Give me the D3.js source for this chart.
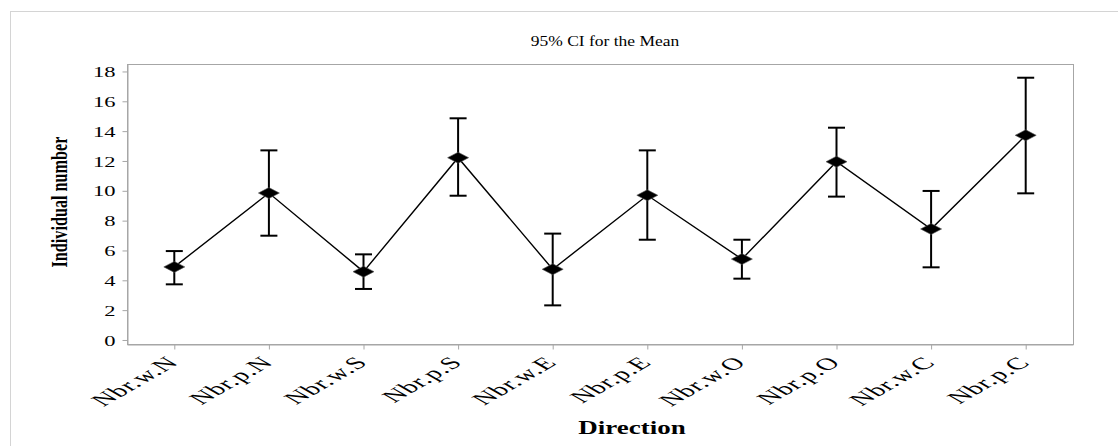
<!DOCTYPE html>
<html>
<head>
<meta charset="utf-8">
<script src="https://d3js.org/d3.v7.min.js"></script>
<style>
	body{margin:0;background:#fff}
	text{font-family:"Liberation Serif","Times New Roman",serif;fill:#000}
</style>
</head>
<body>
<div id="my_dataviz"></div>
<script>
// values
var categories=["Nbr.w.N","Nbr.p.N","Nbr.w.S","Nbr.p.S","Nbr.w.E","Nbr.p.E","Nbr.w.O","Nbr.p.O","Nbr.w.C","Nbr.p.C"]
var means=[4.9,9.85,4.58,12.22,4.74,9.7,5.42,11.95,7.44,13.72]
var lower=[3.73,6.99,3.42,9.67,2.32,6.72,4.11,9.61,4.87,9.83]
var upper=[5.96,12.71,5.74,14.86,7.13,12.71,6.72,14.23,9.99,17.58]
var yTicks=[0,2,4,6,8,10,12,14,16,18]

var title="95% CI for the Mean"
var xTitle="Direction"
var yTitle="Individual number"

function drawChart(){

	var width=1118, height=446
	// plot area
	var box={left:127, right:1073, top:64, bottom:344}
	var sx=1.5 // text in the picture is stretched sideways

	var svg=d3.select("#my_dataviz").append("svg")
		.attr("width",width)
		.attr("height",height)

	// outer frame, runs off the picture on right and bottom
	svg.append("rect")
		.attr("x",10.5).attr("y",11.5)
		.attr("width",width).attr("height",height)
		.attr("fill","none").attr("stroke","#d4d4d4")

	var xScale=d3.scalePoint()
		.domain(categories)
		.range([box.left,box.right])
		.padding(0.5)

	var yScale=d3.scaleLinear()
		.domain([-0.27,18.5])
		.range([box.bottom,box.top])

	// plot border
	svg.append("rect")
		.attr("x",box.left+0.5).attr("y",box.top+0.5)
		.attr("width",box.right-box.left).attr("height",box.bottom-box.top)
		.attr("fill","none").attr("stroke","#a6a6a6")

	// y axis
	var yAxis=svg.append("g")
		.attr("transform","translate("+(box.left+0.5)+",0)")
		.call(d3.axisLeft(yScale).tickValues(yTicks).tickSize(5).tickSizeOuter(0))
	yAxis.select(".domain").attr("stroke","#a6a6a6")
	yAxis.selectAll(".tick line").attr("stroke","#a6a6a6")
	yAxis.selectAll(".tick text")
		.attr("x",0).attr("dy","0.34em")
		.attr("font-size",15)
		.attr("text-anchor","end")
		.attr("transform","translate(-12,0) scale("+sx+",1)")

	// x axis
	var xAxis=svg.append("g")
		.attr("transform","translate(0,"+(box.bottom+0.5)+")")
		.call(d3.axisBottom(xScale).tickSize(5).tickSizeOuter(0))
	xAxis.select(".domain").attr("stroke","#a6a6a6")
	xAxis.selectAll(".tick line").attr("stroke","#a6a6a6")
	xAxis.selectAll(".tick text")
		.attr("x",0).attr("y",0).attr("dy",0)
		.attr("font-size",17)
		.attr("text-anchor","end")
		.attr("letter-spacing",0.6)
		.attr("transform","translate(5,19) scale(1.75,1) rotate(-45)")

	// titles
	svg.append("text")
		.attr("transform","translate(605,46) scale(1.25,1)")
		.attr("text-anchor","middle")
		.attr("font-size",14)
		.text(title)

	svg.append("text")
		.attr("transform","translate(632,434) scale("+sx+",1)")
		.attr("text-anchor","middle")
		.attr("font-size",18)
		.attr("font-weight","bold")
		.text(xTitle)

	svg.append("text")
		.attr("transform","translate(67,202) rotate(-90)")
		.attr("text-anchor","middle")
		.attr("font-size",23)
		.attr("font-weight","bold")
		.attr("textLength",131)
		.attr("lengthAdjust","spacingAndGlyphs")
		.text(yTitle)

	var data=categories.map(function(c,i){
		return {cat:c, mean:means[i], lo:lower[i], hi:upper[i]}
	})

	// error bars
	var bars=svg.append("g").attr("stroke","#000")
	bars.selectAll(".ci")
		.data(data)
		.enter().append("line")
		.attr("class","ci")
		.attr("x1",function(d){return xScale(d.cat)})
		.attr("x2",function(d){return xScale(d.cat)})
		.attr("y1",function(d){return yScale(d.lo)})
		.attr("y2",function(d){return yScale(d.hi)})
		.attr("stroke-width",2)
	;["lo","hi"].forEach(function(k){
		bars.selectAll(".cap-"+k)
			.data(data)
			.enter().append("line")
			.attr("class","cap-"+k)
			.attr("x1",function(d){return xScale(d.cat)-8.5})
			.attr("x2",function(d){return xScale(d.cat)+8.5})
			.attr("y1",function(d){return yScale(d[k])})
			.attr("y2",function(d){return yScale(d[k])})
			.attr("stroke-width",2)
	})

	// mean line
	var line=d3.line()
		.x(function(d){return xScale(d.cat)})
		.y(function(d){return yScale(d.mean)})
	svg.append("path")
		.datum(data)
		.attr("d",line)
		.attr("fill","none")
		.attr("stroke","#000")
		.attr("stroke-width",1.4)

	// diamonds
	svg.selectAll(".dot")
		.data(data)
		.enter().append("path")
		.attr("class","dot")
		.attr("d","M-10.5,0L0,-5.5L10.5,0L0,5.5Z")
		.attr("transform",function(d){return "translate("+xScale(d.cat)+","+yScale(d.mean)+")"})
		.attr("fill","#000")
		.attr("stroke","#555")
		.attr("stroke-width",0.6)
}

drawChart()
</script>
</body>
</html>
